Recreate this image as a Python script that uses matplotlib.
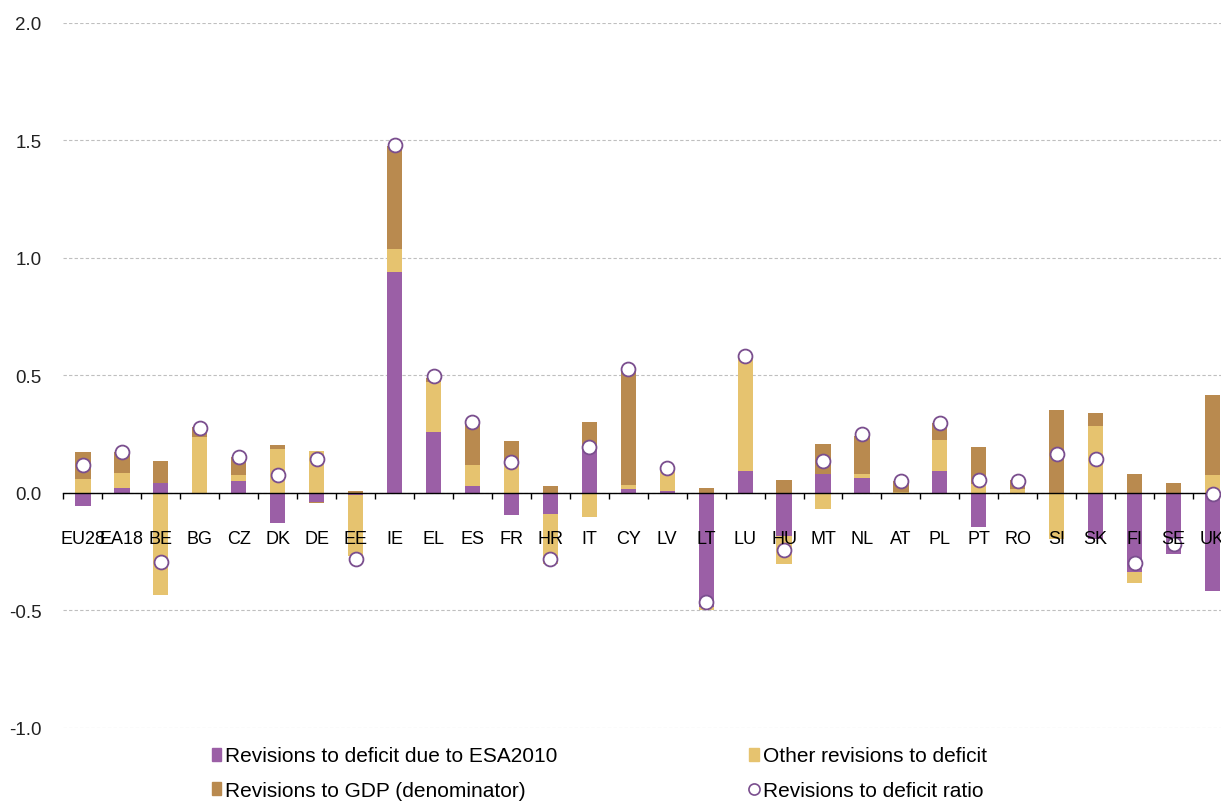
import matplotlib.pyplot as plt
import numpy as np
from matplotlib.lines import Line2D
from matplotlib.patches import Patch

countries = ["EU28", "EA18", "BE", "BG", "CZ", "DK", "DE", "EE", "IE", "EL", "ES", "FR", "HR", "IT", "CY",
             "LV", "LT", "LU", "HU", "MT", "NL", "AT", "PL", "PT", "RO", "SI", "SK", "FI", "SE", "UK"]

esa2010 = [-0.057, 0.023, 0.044, 0.0, 0.050, -0.129, -0.038, -0.010, 0.939, 0.260, 0.028, -0.092, -0.088, 0.192, 0.018,
           0.007, -0.486, 0.094, -0.183, 0.082, 0.065, 0.0, 0.094, -0.145, 0.0, 0.0, -0.195, -0.337, -0.260, -0.418]
other = [0.061, 0.060, -0.436, 0.236, 0.028, 0.186, 0.180, -0.258, 0.099, 0.213, 0.092, 0.118, -0.213, -0.102, 0.014,
         0.097, -0.010, 0.490, -0.118, -0.070, 0.017, 0.005, 0.131, 0.040, 0.018, -0.195, 0.286, -0.047, 0.0, 0.078]
gdp = [0.114, 0.092, 0.092, 0.043, 0.075, 0.017, -0.004, 0.007, 0.440, 0.017, 0.179, 0.102, 0.028, 0.111, 0.490,
       0.0, 0.023, 0.0, 0.057, 0.125, 0.159, 0.044, 0.071, 0.156, 0.036, 0.355, 0.053, 0.082, 0.044, 0.338]
ratio = [0.121, 0.175, -0.294, 0.278, 0.153, 0.077, 0.143, -0.280, 1.480, 0.499, 0.300, 0.132, -0.280, 0.196, 0.527,
         0.107, -0.462, 0.581, -0.241, 0.136, 0.249, 0.051, 0.298, 0.057, 0.051, 0.165, 0.143, -0.298, -0.216, -0.003]

col_esa = "#9B5FA6"
col_other = "#E6C36F"
col_gdp = "#B98A4F"

plt.rcParams['font.family'] = ['Liberation Sans', 'DejaVu Sans']

fig = plt.figure(figsize=(12.21, 8.03), dpi=100)
ax = fig.add_axes([0.052, 0.0922, 0.957, 0.878])

x = np.arange(len(countries))
width = 0.39

# stack positives up and negatives down, like excel does
pos_base = np.zeros(len(x))
neg_base = np.zeros(len(x))
for vals, col in [(esa2010, col_esa), (other, col_other), (gdp, col_gdp)]:
    vals = np.array(vals)
    base = np.where(vals >= 0, pos_base, neg_base)
    ax.bar(x, vals, width, bottom=base, color=col, zorder=2)
    pos_base = pos_base + np.clip(vals, 0, None)
    neg_base = neg_base + np.clip(vals, None, 0)

ax.plot(x, ratio, 'o', markersize=10, markerfacecolor='white', markeredgecolor='#7A4E8E',
        markeredgewidth=1.3, zorder=4, clip_on=False)

ax.set_xlim(-0.5, len(x) - 0.5)
ax.set_ylim(-1.0, 2.0)
ax.set_yticks([-1.0, -0.5, 0.0, 0.5, 1.0, 1.5, 2.0])
ax.set_yticklabels(["-1.0", "-0.5", "0.0", "0.5", "1.0", "1.5", "2.0"])
ax.yaxis.grid(True, color='#BFBFBF', linestyle=(0, (3, 2)), linewidth=0.8)
ax.tick_params(axis='y', length=0, labelsize=13.5, pad=16, colors='#222222')

for s in ['top', 'right', 'left']:
    ax.spines[s].set_visible(False)
ax.spines['bottom'].set_position(('data', 0))
ax.spines['bottom'].set_color('black')
ax.spines['bottom'].set_linewidth(1.0)
ax.spines['bottom'].set_zorder(3)

ax.set_xticks(x)
ax.set_xticklabels(countries)
ax.set_xticks(np.arange(len(x) + 1) - 0.5, minor=True)
ax.tick_params(axis='x', which='major', length=0, pad=27, labelsize=13)
ax.tick_params(axis='x', which='minor', length=4, direction='out', width=1)

# grid behind the bars, country labels on top of them
ax.yaxis.set_zorder(0.5)
ax.xaxis.set_zorder(5)

handles = [Patch(color=col_esa), Patch(color=col_gdp), Patch(color=col_other),
           Line2D([], [], marker='o', linestyle='none', markersize=8, markerfacecolor='white',
                  markeredgecolor='#7A4E8E', markeredgewidth=1.2)]
labels = ["Revisions to deficit due to ESA2010", "Revisions to GDP (denominator)",
          "Other revisions to deficit", "Revisions to deficit ratio"]
fig.legend(handles, labels, ncol=2, loc='lower left', bbox_to_anchor=(0.158, -0.021),
           frameon=False, handlelength=0.45, handleheight=0.6, handletextpad=0.2,
           columnspacing=9.2, labelspacing=0.75,
           prop={'family': ['Liberation Sans Narrow', 'Liberation Sans'], 'size': 15})

plt.savefig('out.png', dpi=100)
